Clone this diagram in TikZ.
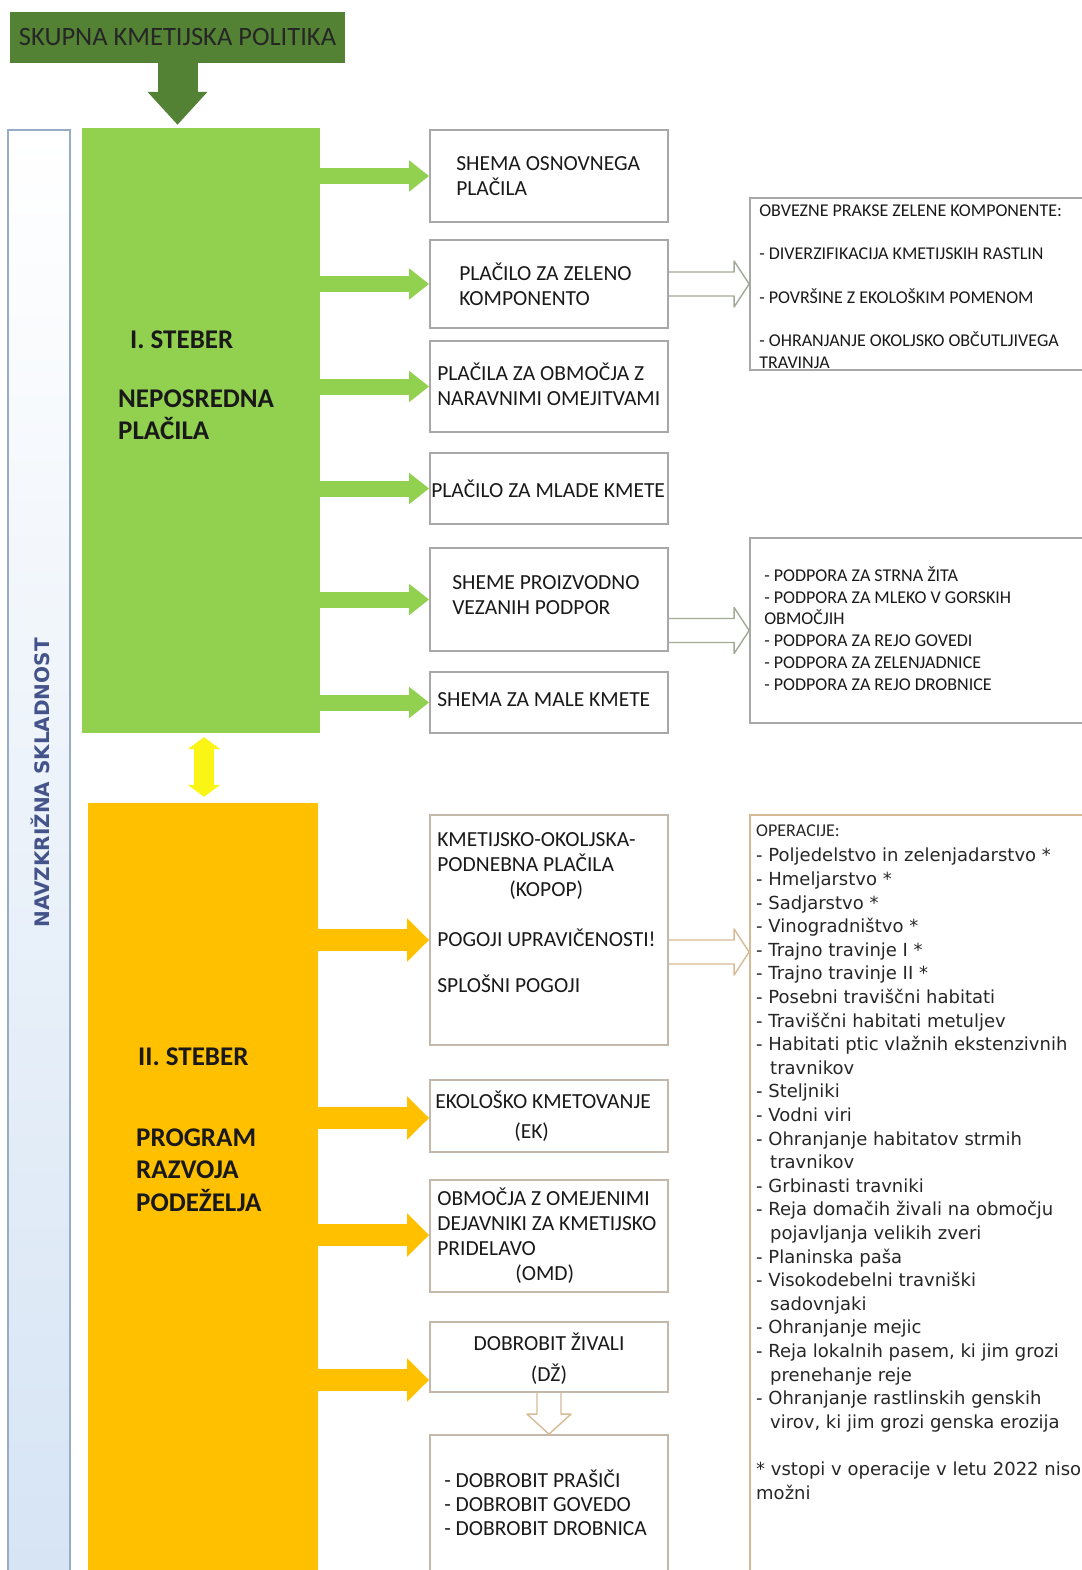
\documentclass[tikz,border=0pt]{standalone}
\usepackage{fontspec}
\setmainfont{Carlito}
\newfontfamily\listfont{DejaVu Sans}
\usepackage{tikz}
\usetikzlibrary{calc}
\usetikzlibrary{positioning}
\usetikzlibrary{arrows.meta}

\definecolor{darkgreen}{RGB}{84,130,53}
\definecolor{lightgreen}{RGB}{146,208,80}
\definecolor{steberorange}{RGB}{255,192,0}
\definecolor{boxgray}{RGB}{168,168,168}
\definecolor{boxtan}{RGB}{196,184,170}
\definecolor{arrowgray}{RGB}{160,170,150}
\definecolor{arrowtan}{RGB}{214,186,150}
\definecolor{slate}{RGB}{68,84,138}
\definecolor{paleblue}{RGB}{214,228,244}
\definecolor{sideborder}{RGB}{150,172,200}
\definecolor{brightyellow}{RGB}{250,245,20}

\begin{document}
\begin{tikzpicture}[x=1pt,y=-1pt,
  pbox/.style={draw=boxgray, line width=1.8pt, minimum width=238pt},
  lbox/.style={draw=boxtan, line width=1.8pt, minimum width=238pt},
  ptext/.style={anchor=west, align=left, inner sep=0pt, text=black!90,
    font=\fontsize{21.5}{25}\selectfont},
  smalltext/.style={anchor=west, align=left, inner sep=0pt, text=black!90,
    font=\fontsize{18}{21.8}\selectfont},
  stebertext/.style={anchor=west, align=left, inner sep=0pt, text=black!90,
    font=\bfseries\fontsize{27}{32.5}\selectfont},
  greenarrow/.style={draw=lightgreen, line width=16pt, -{Triangle[length=20pt,width=30pt]}},
  orangearrow/.style={draw=steberorange, line width=22pt, -{Triangle[length=22pt,width=42pt]}}
]
\useasboundingbox (0,0) rectangle (1081,1570);

% skupna kmetijska politika
\node[fill=darkgreen, minimum width=335pt, minimum height=51pt, inner sep=0pt, text=black!85,
  font=\fontsize{26.5}{30}\selectfont] (skp) at (177.5,37.5) {SKUPNA KMETIJSKA POLITIKA};

\node[draw=sideborder, line width=1.5pt, minimum width=62pt, minimum height=1445pt,
  top color=white, middle color=white, bottom color=paleblue] (skladnost) at (39,852.5) {};
\node[rotate=90, inner sep=0pt, text=slate, font=\listfont\bfseries\fontsize{20}{24}\selectfont]
  (t_skladnost) at (40,783) {NAVZKRIŽNA SKLADNOST};

% stebra
\node[fill=lightgreen, minimum width=238pt, minimum height=605pt] (stebrI) at (201,430.5) {};
\node[fill=steberorange, minimum width=230pt, minimum height=772pt] (stebrII) at (203,1189) {};

\node[stebertext] (t_stebrI) at (130,340) {I. STEBER};
\node[stebertext] (t_neposredna) at (118,414.5) {NEPOSREDNA\\PLAČILA};
\node[stebertext] (t_stebrII) at (138,1057) {II. STEBER};
\node[stebertext] (t_program) at (136,1170) {PROGRAM\\RAZVOJA\\PODEŽELJA};

\draw[darkgreen, line width=40pt, -{Triangle[length=33pt,width=58pt]}]
  (skp.south) -- ($(skp.south |- stebrI.north)+(0,-3)$);
\draw[brightyellow, line width=20pt, {Triangle[length=12pt,width=32pt]}-{Triangle[length=12pt,width=32pt]}]
  ($(stebrI.south)+(3,4)$) -- ($(stebrII.north)+(1,-6)$);

% I. steber
\node[pbox, minimum height=92pt] (osnovno) at (549,176) {};
\node[pbox, minimum height=88pt] (zeleno) at (549,284) {};
\node[pbox, minimum height=91pt] (omejitve) at (549,386.5) {};
\node[pbox, minimum height=71pt] (mladi) at (549,488.5) {};
\node[pbox, minimum height=103pt] (vezane) at (549,599.5) {};
\node[pbox, minimum height=61pt] (mali) at (549,702.5) {};

\node[ptext] (t_osnovno) at ([xshift=27pt]osnovno.west) {SHEMA OSNOVNEGA\\PLAČILA};
\node[ptext] (t_zeleno) at ([xshift=30pt]zeleno.west) {PLAČILO ZA ZELENO\\KOMPONENTO};
\node[ptext] (t_omejitve) at ([xshift=8pt,yshift=2pt]omejitve.west) {PLAČILA ZA OBMOČJA Z\\NARAVNIMI OMEJITVAMI};
\node[ptext] (t_mladi) at ([xshift=2pt]mladi.west) {PLAČILO ZA MLADE KMETE};
\node[ptext] (t_vezane) at ([xshift=23pt,yshift=4pt]vezane.west) {SHEME PROIZVODNO\\VEZANIH PODPOR};
\node[ptext] (t_mali) at ([xshift=8pt,yshift=3pt]mali.west) {SHEMA ZA MALE KMETE};

\foreach \b in {osnovno, zeleno, omejitve, mladi, vezane, mali}
  \draw[greenarrow] (stebrI.east |- \b.west) -- (\b.west);

\node[pbox, minimum width=335pt, minimum height=172pt] (obvezne) at (917.5,284) {};
\node[pbox, minimum width=335pt, minimum height=185pt] (podpore) at (917.5,630.5) {};

\node[smalltext, font=\fontsize{18}{21.5}\selectfont] (t_obvezne) at ([xshift=10pt,yshift=-2.5pt]obvezne.west)
  {OBVEZNE PRAKSE ZELENE KOMPONENTE:\\[22pt]- DIVERZIFIKACIJA KMETIJSKIH RASTLIN\\[22pt]- POVRŠINE Z EKOLOŠKIM POMENOM\\[22pt]- OHRANJANJE OKOLJSKO OBČUTLJIVEGA\\TRAVINJA};
\node[smalltext] (t_podpore) at ([xshift=15pt,yshift=2pt]podpore.west)
  {- PODPORA ZA STRNA ŽITA\\- PODPORA ZA MLEKO V GORSKIH\\OBMOČJIH\\- PODPORA ZA REJO GOVEDI\\- PODPORA ZA ZELENJADNICE\\- PODPORA ZA REJO DROBNICE};

% II. steber
\node[lbox, minimum height=230pt] (kopop) at (549,930) {};
\node[lbox, minimum height=72pt] (ek) at (549,1116) {};
\node[lbox, minimum height=112pt] (omd) at (549,1236) {};
\node[lbox, minimum height=70pt] (dz) at (549,1357) {};
\node[lbox, minimum height=140pt] (dobrobit) at (549,1505) {};
\node[draw=arrowtan, line width=1.8pt, minimum width=335pt, minimum height=760pt] (operacije) at (917.5,1195) {};

\node[ptext] (t_kopop) at ([xshift=8pt,yshift=17pt]kopop.west)
  {KMETIJSKO-OKOLJSKA-\\PODNEBNA PLAČILA\\\hspace*{72pt}(KOPOP)\\[25pt]POGOJI UPRAVIČENOSTI!\\[21pt]SPLOŠNI POGOJI};
\node[ptext] (t_ek) at ([xshift=6pt]ek.west) {EKOLOŠKO KMETOVANJE\\[5pt]\hspace*{79pt}(EK)};
\node[ptext] (t_omd) at ([xshift=8pt]omd.west)
  {OBMOČJA Z OMEJENIMI\\DEJAVNIKI ZA KMETIJSKO\\PRIDELAVO\\\hspace*{78pt}(OMD)};
\node[ptext, anchor=center, align=center] (t_dz) at ([yshift=-1.5pt]dz.center) {DOBROBIT ŽIVALI\\[6pt](DŽ)};
\node[ptext, font=\fontsize{21.5}{24}\selectfont] (t_dobrobit) at ([xshift=15pt,yshift=2pt]dobrobit.west)
  {- DOBROBIT PRAŠIČI\\- DOBROBIT GOVEDO\\- DOBROBIT DROBNICA};

\foreach \b/\dy in {kopop/10, ek/2, omd/-1, dz/23}
  \draw[orangearrow] ($(stebrII.east |- \b.west)+(0,\dy)$) -- ($(\b.west)+(0,\dy)$);

\node[anchor=north west, align=left, inner sep=0pt, text=black!85,
  font=\listfont\fontsize{18}{23.6}\selectfont] (t_operacije) at (756,825)
  {{\normalfont OPERACIJE:}\\[1.5pt]
   - Poljedelstvo in zelenjadarstvo *\\
   - Hmeljarstvo *\\
   - Sadjarstvo *\\
   - Vinogradništvo *\\
   - Trajno travinje I *\\
   - Trajno travinje II *\\
   - Posebni traviščni habitati\\
   - Traviščni habitati metuljev\\
   - Habitati ptic vlažnih ekstenzivnih\\
   \hspace*{14pt}travnikov\\
   - Steljniki\\
   - Vodni viri\\
   - Ohranjanje habitatov strmih\\
   \hspace*{14pt}travnikov\\
   - Grbinasti travniki\\
   - Reja domačih živali na območju\\
   \hspace*{14pt}pojavljanja velikih zveri\\
   - Planinska paša\\
   - Visokodebelni travniški\\
   \hspace*{14pt}sadovnjaki\\
   - Ohranjanje mejic\\
   - Reja lokalnih pasem, ki jim grozi\\
   \hspace*{14pt}prenehanje reje\\
   - Ohranjanje rastlinskih genskih\\
   \hspace*{14pt}virov, ki jim grozi genska erozija\\[23.6pt]
   * vstopi v operacije v letu 2022 niso\\
   možni};

% votle puscice
\coordinate (zel_s) at (zeleno.east |- obvezne.west);
\coordinate (zel_t) at (obvezne.west);
\coordinate (vez_s) at (vezane.east |- podpore.west);
\coordinate (vez_t) at (podpore.west);
\coordinate (kop_s) at ($(kopop.east)+(0,22)$);
\coordinate (kop_t) at (operacije.west |- kop_s);

\foreach \s/\t/\c in {zel_s/zel_t/arrowgray, vez_s/vez_t/arrowgray, kop_s/kop_t/arrowtan}
  \draw[draw=\c, line width=1.4pt, line join=round] ($(\s)+(0,-12)$) -- ($(\t)+(-15,-12)$) -- ($(\t)+(-15,-23)$)
    -- (\t) -- ($(\t)+(-15,23)$) -- ($(\t)+(-15,12)$) -- ($(\s)+(0,12)$);

\draw[draw=arrowtan, line width=1.4pt, line join=round] ($(dz.south)+(-12,0)$) -- ($(dobrobit.north)+(-12,-20)$)
  -- ($(dobrobit.north)+(-22,-20)$) -- (dobrobit.north) -- ($(dobrobit.north)+(22,-20)$)
  -- ($(dobrobit.north)+(12,-20)$) -- ($(dz.south)+(12,0)$);

\end{tikzpicture}
\end{document}
